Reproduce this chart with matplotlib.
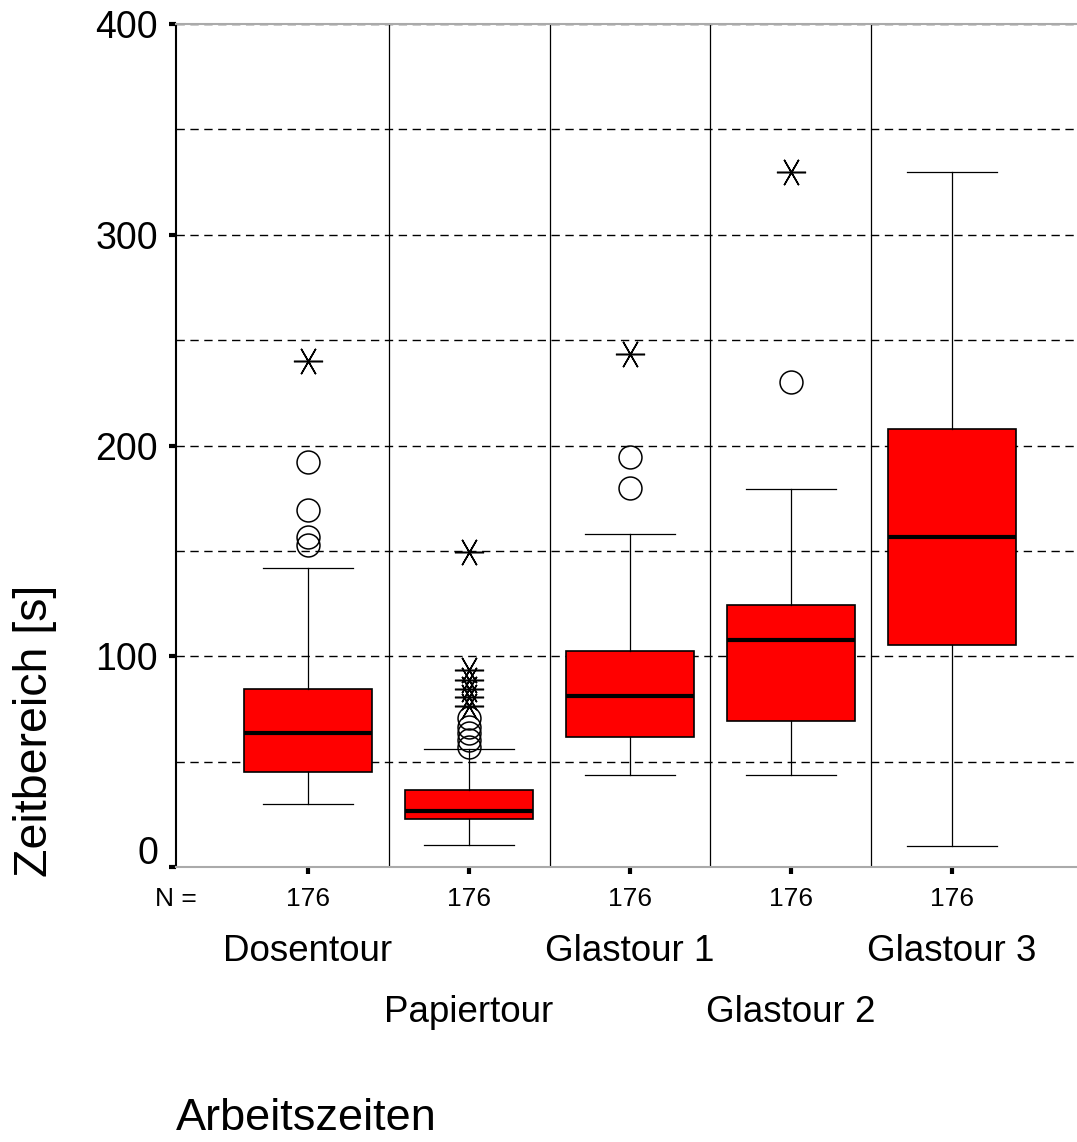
import matplotlib.pyplot as plt
from matplotlib.transforms import ScaledTranslation, blended_transform_factory

plt.rcParams['font.family'] = ['Liberation Sans', 'DejaVu Sans']

# data
tours = ["Dosentour", "Papiertour", "Glastour 1", "Glastour 2", "Glastour 3"]
counts = [176, 176, 176, 176, 176]
whisker_low = [30, 10.5, 43.7, 43.7, 10]
q1 = [45, 22.8, 61.7, 69.3, 105.3]
median = [63.6, 26.6, 81.1, 107.7, 156.6]
q3 = [84.5, 36.5, 102.5, 124.3, 207.8]
whisker_high = [142, 55.8, 158, 179.4, 329.8]
outliers = [
    [192, 169.4, 156.6, 152.8],
    [70.7, 66.4, 63.6, 60.3, 57],
    [194.5, 179.8],
    [230.2],
    [],
]
extremes = [
    [240],
    [149.6, 93.5, 88.7, 84.5, 80.5, 76.5],
    [243.4],
    [330],
    [],
]

fig = plt.figure(figsize=(10.77, 11.42), dpi=100)
ax = fig.add_axes([176 / 1077, 1 - 867 / 1142, 908 / 1077, 843 / 1142])

positions = list(range(1, len(tours) + 1))
stats = []
for i in range(len(tours)):
    stats.append({
        "whislo": whisker_low[i], "q1": q1[i], "med": median[i],
        "q3": q3[i], "whishi": whisker_high[i], "fliers": [],
    })

ax.bxp(stats, positions=positions, widths=0.8, patch_artist=True,
       showfliers=False, showcaps=True,
       boxprops=dict(facecolor="#ff0000", edgecolor="black", linewidth=1.2),
       medianprops=dict(color="black", linewidth=3),
       whiskerprops=dict(color="black", linewidth=0.9),
       capprops=dict(color="black", linewidth=0.9),
       capwidths=0.56, zorder=3)

# outliers (circles) and extremes (asterisks)
for pos, vals in zip(positions, outliers):
    ax.plot([pos] * len(vals), vals, linestyle="none", marker="o", markersize=16.5,
            markerfacecolor="none", markeredgecolor="black", markeredgewidth=1.1, zorder=4)
for pos, vals in zip(positions, extremes):
    ax.plot([pos] * len(vals), vals, linestyle="none", marker=(6, 2, 90), markersize=21,
            markeredgecolor="black", markeredgewidth=1.1, zorder=4)

# vertical separators between groups
for p in positions[:-1]:
    ax.plot([p + 0.5, p + 0.5], [0, 400], color="black", linewidth=0.9, zorder=2)

# dashed horizontal grid
for g in range(0, 401, 50):
    ax.axhline(g, color="black", linewidth=1.0, linestyle=(0, (6, 4)), zorder=1)

ax.set_xlim(0.18, 5.82)
ax.set_ylim(0, 400)
ax.set_yticks([0, 100, 200, 300, 400])
ax.set_yticklabels(["0", "100", "200", "300", "400"], fontsize=27)
ax.set_xticks(positions)
ax.set_xticklabels([""] * len(positions))
ax.tick_params(axis="both", direction="out", length=5, width=3, pad=8)

lab0 = ax.get_yticklabels()[0]
lab0.set_transform(lab0.get_transform() + ScaledTranslation(0, 0.17, fig.dpi_scale_trans))

for side in ["top", "bottom"]:
    ax.spines[side].set_color("#aaaaaa")
    ax.spines[side].set_linewidth(1.5)
ax.spines["right"].set_visible(False)
ax.spines["left"].set_linewidth(1.5)

trans = blended_transform_factory(ax.transData, ax.transAxes)
ax.text(0.18, -0.038, "N =", transform=trans, ha="center", va="center", fontsize=19)
for pos, n in zip(positions, counts):
    ax.text(pos, -0.038, str(n), transform=trans, ha="center", va="center", fontsize=19)
for i, (pos, name) in enumerate(zip(positions, tours)):
    y = -0.1008 if i % 2 == 0 else -0.173
    ax.text(pos, y, name, transform=trans, ha="center", va="center", fontsize=26.5)

fig.text(35 / 1077, 1 - 731 / 1142, "Zeitbereich [s]", rotation=90, ha="center", va="center",
         fontsize=33.5)
ax.text(0, -0.298, "Arbeitszeiten", transform=ax.transAxes, ha="left", va="center", fontsize=32.5)

fig.savefig("out.png", dpi=100)
